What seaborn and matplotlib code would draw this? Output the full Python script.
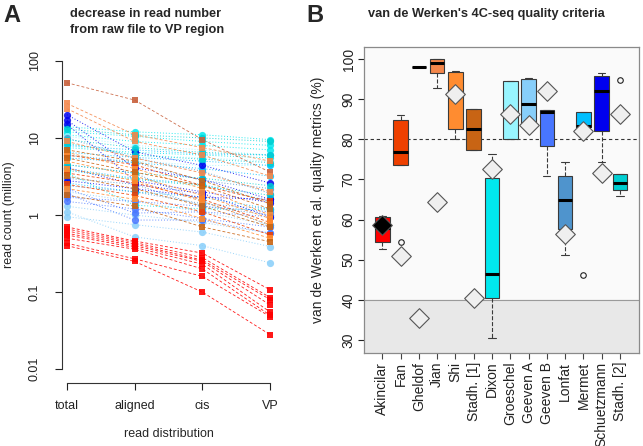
import numpy as np
import pandas as pd
import matplotlib
matplotlib.use("Agg")
import matplotlib.pyplot as plt
import seaborn as sns

# -----------------------------
# Data
# -----------------------------
STAGES = ["total", "aligned", "cis", "VP"]
STUDIES = ["Akincilar", "Fan", "Gheldof", "Jian", "Shi", "Stadh. [1]", "Dixon",
           "Groeschel", "Geeven A", "Geeven B", "Lonfat", "Mermet", "Schuetzmann", "Stadh. [2]"]
COLORS = ["#FF0000", "#EE4000", "#C8603C", "#F4874B", "#FF8C30", "#C86414", "#00E8EE",
          "#98F5FF", "#87CEFA", "#4876FF", "#4F94CD", "#00BFFF", "#0000EE", "#00CED1"]

# read counts (million) per dataset: total, aligned, cis, VP
reads = {
    "Akincilar": [[0.70, 0.46, 0.32, 0.107], [0.66, 0.44, 0.28, 0.085], [0.62, 0.42, 0.26, 0.080],
                  [0.58, 0.40, 0.25, 0.068], [0.55, 0.38, 0.23, 0.055], [0.50, 0.36, 0.20, 0.050],
                  [0.43, 0.27, 0.16, 0.048], [0.40, 0.25, 0.10, 0.028]],
    "Fan": [[6.0, 4.5, 2.4, 1.5], [3.5, 2.6, 1.6, 0.8], [2.5, 1.8, 1.1, 0.55]],
    "Gheldof": [[52, 31, 9.5, 3.6]],
    "Jian": [[28, 11, 7.5, 5.0], [24, 9.0, 6.0, 3.2], [9.0, 5.5, 3.5, 2.0]],
    "Shi": [[6.5, 4.0, 2.2, 1.0], [5.0, 3.2, 1.8, 0.9], [4.0, 2.8, 1.5, 0.75], [2.2, 1.6, 0.9, 0.5]],
    "Stadh. [1]": [[7.0, 5.0, 2.8, 1.4], [5.5, 3.6, 2.4, 1.2], [3.2, 2.2, 1.3, 0.7], [1.8, 1.3, 0.7, 0.45]],
    "Dixon": [[14, 12, 11, 9.5], [12, 10.5, 9.0, 8.0], [11, 9.0, 8.0, 7.0], [7.5, 6.5, 6.0, 5.5],
              [3.5, 1.34, 1.2, 1.17]],
    "Groeschel": [[10.5, 8.0, 7.0, 6.0], [8.0, 6.0, 5.5, 5.0], [6.0, 5.0, 4.4, 4.4]],
    "Geeven A": [[1.1, 0.52, 0.40, 0.24], [0.95, 0.75, 0.60, 0.39], [1.3, 1.0, 0.8, 0.58],
                 [2.0, 1.5, 1.1, 0.74]],
    "Geeven B": [[2.2, 1.06, 1.1, 0.95], [1.9, 0.86, 0.86, 0.58], [1.7, 1.5, 1.3, 1.1],
                 [1.5, 1.2, 0.9, 0.7]],
    "Lonfat": [[10, 5.5, 3.7, 1.9], [6.0, 4.8, 2.8, 2.2], [4.5, 3.5, 1.5, 0.74], [3.0, 2.5, 1.3, 1.0],
               [2.4, 2.0, 1.4, 1.2]],
    "Mermet": [[8.0, 7.0, 6.2, 6.0], [6.5, 5.6, 5.0, 4.4], [5.5, 4.8, 4.0, 3.2], [4.0, 3.0, 2.5, 1.5],
               [2.6, 2.0, 1.7, 1.2]],
    "Schuetzmann": [[20, 6.6, 4.4, 2.6], [17, 4.1, 2.9, 1.6], [15, 2.8, 2.0, 1.45],
                    [4.1, 2.5, 1.9, 0.95], [2.8, 2.2, 1.7, 1.6]],
    "Stadh. [2]": [[9.5, 7.5, 6.5, 6.0], [13, 11, 10, 9.0], [4.5, 3.5, 3.0, 2.4], [3.8, 2.9, 2.4, 1.8],
                   [8.5, 6.0, 5.3, 4.8]],
}
SQUARE_STUDIES = ["Fan", "Gheldof", "Jian", "Shi", "Stadh. [1]", "Akincilar"]

# quality metrics (%) per dataset
metrics = {
    "Akincilar": [52.6, 54.5, 58.0, 60.7, 61.0],
    "Fan": [54.5, 73.6, 76.9, 84.9, 86.1],
    "Gheldof": [97.9],
    "Jian": [92.8, 96.4, 99.1, 99.9, 99.9],
    "Shi": [80.0, 82.6, 91.0, 96.7, 97.1],
    "Stadh. [1]": [77.4, 77.4, 82.5, 87.6, 87.6],
    "Dixon": [30.5, 40.5, 46.4, 70.3, 76.4],
    "Groeschel": [80.0, 80.0, 86.0, 94.6, 94.6],
    "Geeven A": [83.0, 83.5, 88.9, 95.0, 95.2],
    "Geeven B": [70.9, 78.2, 86.9, 87.2, 87.2],
    "Lonfat": [51.3, 57.6, 64.8, 70.8, 74.4],
    "Mermet": [46.1, 83.0, 83.4, 86.8, 86.8],
    "Schuetzmann": [74.3, 82.0, 92.1, 95.7, 96.6],
    "Stadh. [2]": [65.9, 67.4, 69.0, 71.4, 94.7],
}
# van de Werken criterion per study (diamonds)
werken = [58.7, 50.9, 35.4, 64.4, 91.2, 40.4, 72.6, 86.2, 83.5, 92.0, 56.3, 82.0, 71.6, 86.4]

# -----------------------------
# Style
# -----------------------------
sns.set_theme(style="ticks")
plt.rcParams["font.family"] = ["Liberation Sans", "DejaVu Sans"]
palette = dict(zip(STUDIES, COLORS))

fig = plt.figure(figsize=(6.43, 4.46), dpi=100)
W, H = 643, 446
axA = fig.add_axes([61.5 / W, 1 - 383 / H, 214 / W, (383 - 47) / H])
axB = fig.add_axes([364 / W, 1 - 353.3 / H, 275.5 / W, 306 / H])

# -----------------------------
# Panel A
# -----------------------------
rows = []
for study, sets in reads.items():
    for i, vals in enumerate(sets):
        for j, v in enumerate(vals):
            rows.append({"study": study, "sample": f"{study}_{i}", "pos": j + 1, "reads": v})
dfA = pd.DataFrame(rows)

circ = dfA[~dfA.study.isin(SQUARE_STUDIES)]
sq = dfA[dfA.study.isin(SQUARE_STUDIES)]
circ_order = [s for s in STUDIES if s not in SQUARE_STUDIES]
sns.lineplot(data=circ, x="pos", y="reads", hue="study", hue_order=circ_order, palette=palette,
             units="sample", estimator=None, sort=False, linestyle=(0, (1, 2)), linewidth=0.7,
             marker="o", markersize=5.2, markeredgewidth=0, alpha=0.85, legend=False, ax=axA)
sns.lineplot(data=sq, x="pos", y="reads", hue="study", hue_order=SQUARE_STUDIES, palette=palette,
             units="sample", estimator=None, sort=False, linestyle=(0, (3.5, 2.5)), linewidth=0.6,
             marker="s", markersize=4.3, markeredgewidth=0, alpha=0.9, legend=False, ax=axA)

axA.set_yscale("log")
axA.set_ylim(10 ** -2.18, 10 ** 2.18)
axA.set_xlim(0.92, 4.08)
axA.set_yticks([0.01, 0.1, 1, 10, 100])
axA.set_yticklabels(["0.01", "0.1", "1", "10", "100"], rotation=90, va="center")
axA.minorticks_off()
axA.set_xticks([1, 2, 3, 4])
axA.set_xticklabels(STAGES)
for s in ["top", "right"]:
    axA.spines[s].set_visible(False)
axA.spines["left"].set_bounds(0.01, 100)
axA.spines["bottom"].set_bounds(1, 4)
for s in ["left", "bottom"]:
    axA.spines[s].set_color("#333333")
    axA.spines[s].set_linewidth(0.8)
axA.tick_params(axis="y", length=5, width=0.8, pad=10, labelsize=9, colors="#222222")
axA.tick_params(axis="x", length=5, width=0.8, pad=7, labelsize=9, colors="#222222")
axA.set_xlabel("read distribution", fontsize=9, labelpad=12)
axA.set_ylabel("read count (million)", fontsize=9, labelpad=10)

# -----------------------------
# Panel B
# -----------------------------
dfB = pd.DataFrame([{"study": s, "metric": v} for s, vals in metrics.items() for v in vals])

axB.set_facecolor("#FAFAFA")
axB.axhspan(0, 40, color="#E8E8E8", zorder=0)
axB.axhline(40, color="#9A9A9A", linewidth=0.8, zorder=0.5)
axB.axhline(80, color="#333333", linewidth=0.8, linestyle=(0, (3, 2.5)), zorder=0.5)

sns.boxplot(data=dfB, x="study", y="metric", order=STUDIES, hue="study", hue_order=STUDIES,
            palette=palette, legend=False, width=0.8, linecolor="#3A3A3A", linewidth=0.8,
            saturation=1, whis=1.5, fliersize=4,
            medianprops=dict(color="black", linewidth=2.2),
            whiskerprops=dict(linestyle="--"),
            flierprops=dict(marker="o", markerfacecolor="none", markeredgecolor="#222222",
                            markeredgewidth=0.8),
            ax=axB)

diamond_pal = {s: "#EFEFEF" for s in STUDIES}
diamond_pal["Akincilar"] = "black"
sns.stripplot(x=STUDIES, y=werken, order=STUDIES, hue=STUDIES, palette=diamond_pal, jitter=False,
              marker="D", size=10, edgecolor="#555555", linewidth=0.8, legend=False, ax=axB, zorder=5)

axB.set_xlim(-1.0, 13 + 1.07)
axB.set_ylim(26.7, 102.9)
axB.set_yticks(range(30, 101, 10))
axB.set_yticklabels([str(t) for t in range(30, 101, 10)], rotation=90, va="center")
axB.set_xticks(range(len(STUDIES)))
axB.set_xticklabels(STUDIES, rotation=90)
axB.set_xlabel("")
axB.set_ylabel("van de Werken et al. quality metrics (%)", fontsize=10, labelpad=12)
for s in axB.spines.values():
    s.set_visible(True)
    s.set_color("#8A8A8A")
    s.set_linewidth(0.9)
axB.tick_params(axis="both", length=4, width=0.8, pad=2, labelsize=10, colors="#222222")
axB.tick_params(axis="x", color="#444444")

# -----------------------------
# Titles and panel letters
# -----------------------------
fig.text(70 / W, 1 - 8 / H, "decrease in read number\nfrom raw file to VP region",
         ha="left", va="top", fontsize=9.2, fontweight="bold", linespacing=1.5)
fig.text(486 / W, 1 - 8 / H, "van de Werken's 4C-seq quality criteria",
         ha="center", va="top", fontsize=9.2, fontweight="bold")
fig.text(3 / W, 1 - 4 / H, "A", ha="left", va="top", fontsize=17, fontweight="bold")
fig.text(306 / W, 1 - 4 / H, "B", ha="left", va="top", fontsize=17, fontweight="bold")

fig.savefig("out.png", dpi=100)
